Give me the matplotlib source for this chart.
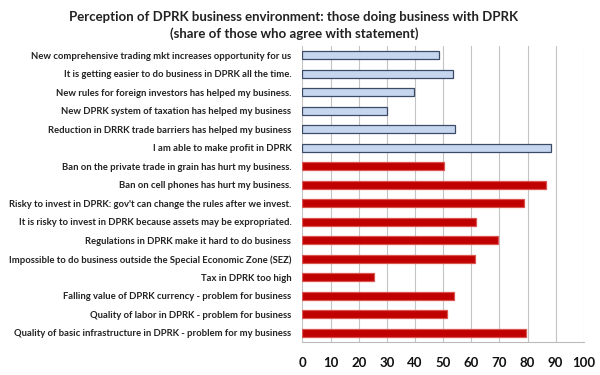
import matplotlib.pyplot as plt
import numpy as np

plt.rcParams['font.family'] = ['Lato', 'DejaVu Sans']

# statements, top to bottom
labels = [
    "New comprehensive trading mkt increases opportunity for us",
    "It is getting easier to do business in DPRK all the time.",
    "New rules for foreign investors has helped my business.",
    "New DPRK system of taxation has helped my business",
    "Reduction in DRRK trade barriers has helped my business",
    "I am able to make profit in DPRK",
    "Ban on the private trade in grain has hurt my business.",
    "Ban on cell phones has hurt my business.",
    "Risky to invest in DPRK: gov't can change the rules after we invest.",
    "It is risky to invest in DPRK because assets may be expropriated.",
    "Regulations in DPRK make it hard to do business",
    "Impossible to do business outside the Special Economic Zone (SEZ)",
    "Tax in DPRK too high",
    "Falling value of DPRK currency - problem for business",
    "Quality of labor in DPRK - problem for business",
    "Quality of basic infrastructure in DPRK - problem for my business",
]
values = [48.5, 53.6, 39.5, 30.0, 54.1, 88.2, 50.4, 86.5, 78.9,
          61.7, 69.6, 61.2, 25.3, 54.0, 51.3, 79.3]
positive = [True] * 6 + [False] * 10

fig = plt.figure(figsize=(6, 3.75), dpi=100)
ax = fig.add_axes([0.504, 0.088, 0.469, 0.789])

y = np.arange(len(labels))
face = ['#c6d6ef' if p else '#c00000' for p in positive]
edge = ['#3b4a66' if p else '#d9534f' for p in positive]
ax.barh(y, values, height=0.42, color=face, edgecolor=edge, linewidth=0.9, zorder=3)

ax.set_xlim(0, 100)
ax.set_ylim(len(labels) - 0.5, -0.5)
ax.set_xticks(np.arange(0, 101, 10))
ax.set_yticks(y)
ax.set_yticklabels(labels, fontsize=6.8, fontweight='bold', color='#222222')
ax.tick_params(axis='y', length=0, pad=8)
ax.tick_params(axis='x', length=0, pad=11, labelsize=9.5, labelcolor='#111111')
for t in ax.get_xticklabels():
    t.set_fontweight('bold')

ax.grid(axis='x', color='#c4c4c4', linewidth=0.8, zorder=0)
for s in ['top', 'right', 'left']:
    ax.spines[s].set_visible(False)
ax.spines['bottom'].set_color('#bbbbbb')

fig.text(0.49, 0.955, "Perception of DPRK business environment: those doing business with DPRK",
         ha='center', va='center', fontsize=9.5, fontweight='bold', color='#222222')
fig.text(0.49, 0.909, "(share of those who agree with statement)",
         ha='center', va='center', fontsize=9.5, fontweight='bold', color='#222222')

fig.savefig('out.png', dpi=100)
